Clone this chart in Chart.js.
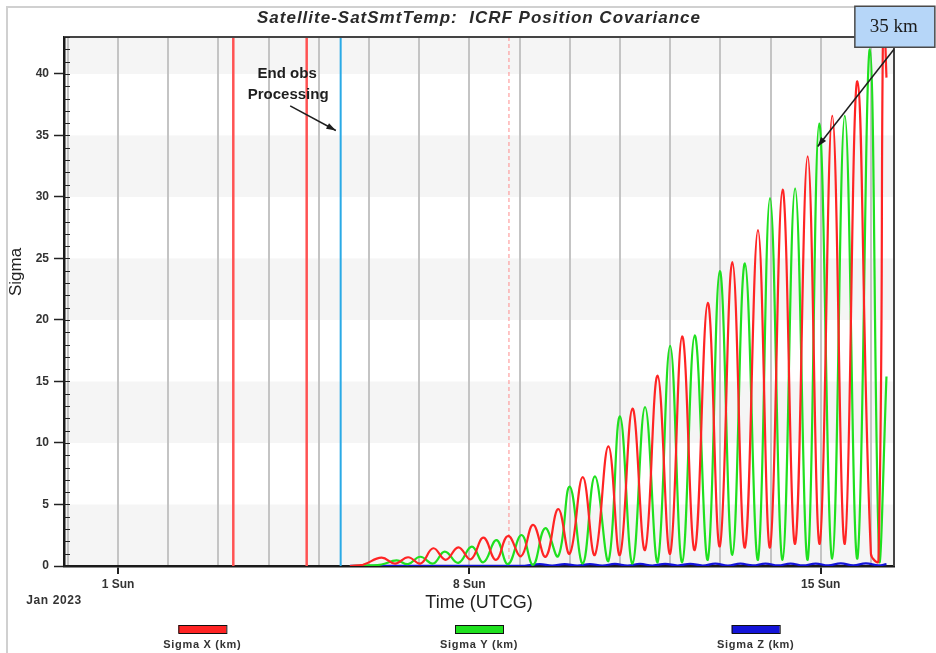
<!DOCTYPE html>
<html>
<head>
<meta charset="utf-8">
<title>Satellite-SatSmtTemp: ICRF Position Covariance</title>
<script src="https://cdn.jsdelivr.net/npm/chart.js@4.4.0/dist/chart.umd.min.js"></script>
<style>
  html, body { margin: 0; padding: 0; background: #fff; }
</style>
</head>
<body>
<canvas id="covChart" width="936" height="653"></canvas>
<script>
// tiempo en dias desde 1 Jan 2023 00:00 UTCG, sigma en km
const sigmaXDays = [4.62, 4.88, 5.25, 5.52, 5.78, 6.03, 6.28, 6.53, 6.78, 7.03, 7.28, 7.53, 7.77, 8.03,
  8.27, 8.52, 8.77, 9.00, 9.26, 9.50, 9.77, 10.00, 10.25, 10.50, 10.75, 11.00, 11.24, 11.49, 11.75, 11.99,
  12.24, 12.49, 12.75, 12.99, 13.24, 13.49, 13.74, 13.98, 14.23, 14.48, 14.73, 15.00, 15.15, 15.25, 15.31];
const sigmaXKm = [0.0, 0.1, 0.68, 0.2, 0.71, 0.2, 1.44, 0.5, 1.52, 0.55, 2.3, 0.5, 2.44, 0.8,
  3.34, 0.75, 4.62, 1.0, 7.22, 0.9, 9.72, 0.9, 12.79, 1.3, 15.47, 1.0, 18.67, 1.3, 21.4, 1.6,
  24.7, 1.5, 27.3, 1.5, 30.6, 1.8, 33.3, 1.8, 36.6, 1.8, 39.4, 1.0, 0.4, 46.0, 39.7];

const sigmaYDays = [4.62, 5.00, 5.25, 5.55, 5.78, 6.02, 6.28, 6.51, 6.78, 7.05, 7.28, 7.54, 7.77, 8.04,
  8.27, 8.51, 8.77, 9.00, 9.26, 9.50, 9.77, 10.00, 10.25, 10.50, 10.75, 11.00, 11.24, 11.49, 11.75, 11.99,
  12.24, 12.49, 12.75, 12.99, 13.24, 13.49, 13.74, 13.97, 14.23, 14.48, 14.73, 14.98, 15.17, 15.31];
const sigmaYKm = [0.0, 0.05, 0.12, 0.45, 0.15, 0.75, 0.2, 1.17, 0.25, 1.57, 0.3, 2.1, 0.15, 2.52,
  0.1, 3.07, 0.8, 6.46, 0.2, 7.28, 0.4, 12.16, 0.2, 12.92, 0.3, 17.9, 0.3, 18.75, 0.5, 23.97,
  0.9, 24.6, 0.5, 29.9, 0.5, 30.7, 0.5, 35.96, 0.6, 36.6, 0.6, 42.0, 0.3, 15.4];

const sigmaZDays = [4.62, 8.10, 8.40, 8.65, 8.90, 9.15, 9.40, 9.65, 9.90, 10.15, 10.40, 10.65, 10.90,
  11.15, 11.40, 11.65, 11.90, 12.15, 12.40, 12.65, 12.90, 13.15, 13.40, 13.65, 13.90, 14.15, 14.40,
  14.65, 14.90, 15.15, 15.31];
const sigmaZKm = [0.02, 0.02, 0.15, 0.03, 0.16, 0.03, 0.16, 0.04, 0.17, 0.04, 0.17, 0.04, 0.18,
  0.04, 0.18, 0.04, 0.19, 0.04, 0.19, 0.05, 0.2, 0.05, 0.2, 0.05, 0.2, 0.05, 0.21,
  0.05, 0.21, 0.05, 0.15];

// etiquetas del eje x (una por semana)
const xTickDays = [0, 7, 14];
const xTickLabels = ["1 Sun", "8 Sun", "15 Sun"];

// lineas verticales de eventos (dias)
const eventDays = [2.297, 3.759, 4.436, 7.789];

const yMin = 0, yMax = 43, yStep = 5;
const xMin = -1.076, xMax = 15.46;

// estilos de las lineas de eventos
const eventStyles = [
  { color: "#ff5252", width: 2.5, dash: [] },
  { color: "#ff5252", width: 2.5, dash: [] },
  { color: "#2aaae6", width: 2, dash: [] },
  { color: "#ff8c8c", width: 1, dash: [4, 3] },
];

function pairs(days, km) {
  return days.map((d, i) => ({ x: d, y: km[i] }));
}

function drawArrow(ctx, x1, y1, x2, y2) {
  const ang = Math.atan2(y2 - y1, x2 - x1);
  ctx.beginPath();
  ctx.moveTo(x1, y1);
  ctx.lineTo(x2, y2);
  ctx.stroke();
  ctx.beginPath();
  ctx.moveTo(x2, y2);
  ctx.lineTo(x2 - 10 * Math.cos(ang - 0.33), y2 - 10 * Math.sin(ang - 0.33));
  ctx.lineTo(x2 - 10 * Math.cos(ang + 0.33), y2 - 10 * Math.sin(ang + 0.33));
  ctx.closePath();
  ctx.fill();
}

const decorPlugin = {
  id: "decor",
  beforeDraw(chart) {
    const { ctx, chartArea: a, scales: { y } } = chart;
    ctx.save();
    ctx.fillStyle = "#ffffff";
    ctx.fillRect(0, 0, chart.width, chart.height);
    // bandas grises alternas
    ctx.fillStyle = "#f5f5f5";
    for (let v = yMin; v < yMax; v += 2 * yStep) {
      const top = y.getPixelForValue(Math.min(v + yStep, yMax));
      const bot = y.getPixelForValue(v);
      ctx.fillRect(a.left, top, a.right - a.left, bot - top);
    }
    ctx.restore();
  },
  beforeDatasetsDraw(chart) {
    const { ctx, chartArea: a, scales: { x } } = chart;
    ctx.save();
    eventDays.forEach((d, i) => {
      const st = eventStyles[i];
      const px = x.getPixelForValue(d);
      ctx.strokeStyle = st.color;
      ctx.lineWidth = st.width;
      ctx.setLineDash(st.dash);
      ctx.beginPath();
      ctx.moveTo(px, a.top);
      ctx.lineTo(px, a.bottom);
      ctx.stroke();
    });
    ctx.restore();
  },
  afterDraw(chart) {
    const { ctx, chartArea: a, scales: { x, y } } = chart;
    ctx.save();

    // borde superior y derecho del area
    ctx.strokeStyle = "#444";
    ctx.lineWidth = 2;
    ctx.beginPath();
    ctx.moveTo(a.left, a.top);
    ctx.lineTo(a.right, a.top);
    ctx.lineTo(a.right, a.bottom);
    ctx.stroke();

    // ticks menores del eje y (hacia dentro)
    ctx.strokeStyle = "#222";
    ctx.lineWidth = 1;
    for (let v = yMin; v <= yMax; v++) {
      const py = Math.round(y.getPixelForValue(v)) + 0.5;
      ctx.beginPath();
      ctx.moveTo(a.left, py);
      ctx.lineTo(a.left + 6, py);
      ctx.stroke();
    }

    // marco exterior
    ctx.strokeStyle = "#d0d0d0";
    ctx.lineWidth = 2;
    ctx.beginPath();
    ctx.moveTo(7, chart.height);
    ctx.lineTo(7, 7);
    ctx.lineTo(860, 7);
    ctx.stroke();

    // titulo
    ctx.fillStyle = "#2a2a2a";
    ctx.textAlign = "center";
    ctx.textBaseline = "middle";
    ctx.font = "italic bold 17px 'Liberation Sans', Arial, sans-serif";
    ctx.letterSpacing = "1px";
    ctx.fillText("Satellite-SatSmtTemp:  ICRF Position Covariance", (a.left + a.right) / 2, 18);
    ctx.letterSpacing = "0px";

    // titulo eje y
    ctx.save();
    ctx.translate(16, 272);
    ctx.rotate(-Math.PI / 2);
    ctx.font = "17px 'Liberation Sans', Arial, sans-serif";
    ctx.fillStyle = "#222";
    ctx.fillText("Sigma", 0, 0);
    ctx.restore();

    // fecha bajo el eje
    ctx.font = "bold 12px 'Liberation Sans', Arial, sans-serif";
    ctx.fillStyle = "#333";
    ctx.letterSpacing = "0.6px";
    ctx.fillText("Jan 2023", 54, 601);

    // leyenda
    const mid = (a.left + a.right) / 2;
    const gap = (a.right - a.left) / 3;
    chart.data.datasets.forEach((ds, i) => {
      const cx = mid + (i - 1) * gap;
      ctx.fillStyle = ds.borderColor;
      ctx.fillRect(cx - 24, a.bottom + 59, 48, 8);
      ctx.strokeStyle = "#111";
      ctx.lineWidth = 1;
      ctx.strokeRect(cx - 24 + 0.5, a.bottom + 59 + 0.5, 48, 8);
      ctx.fillStyle = "#333";
      ctx.font = "bold 11px 'Liberation Sans', Arial, sans-serif";
      ctx.letterSpacing = "0.7px";
      ctx.fillText(ds.label, cx, a.bottom + 79);
    });
    ctx.letterSpacing = "0px";

    // anotacion "End obs Processing"
    ctx.fillStyle = "#1e1e1e";
    ctx.font = "bold 15px 'Liberation Sans', Arial, sans-serif";
    ctx.fillText("End obs", x.getPixelForValue(3.37), y.getPixelForValue(40.0));
    ctx.fillText("Processing", x.getPixelForValue(3.39), y.getPixelForValue(38.3));
    ctx.strokeStyle = "#1e1e1e";
    ctx.lineWidth = 1.5;
    drawArrow(ctx, x.getPixelForValue(3.43), y.getPixelForValue(37.4),
      x.getPixelForValue(4.34), y.getPixelForValue(35.4));

    // caja "35 km"
    const bx = x.getPixelForValue(14.68), by = y.getPixelForValue(45.5);
    const bw = 80, bh = 41;
    ctx.fillStyle = "#b6d6f8";
    ctx.fillRect(bx, by, bw, bh);
    ctx.strokeStyle = "#4a4a4a";
    ctx.lineWidth = 1.5;
    ctx.strokeRect(bx, by, bw, bh);
    ctx.fillStyle = "#1a1a1a";
    ctx.font = "19px 'Liberation Serif', 'Times New Roman', serif";
    ctx.fillText("35 km", bx + bw / 2 - 1, by + bh / 2);
    ctx.strokeStyle = "#1e1e1e";
    ctx.lineWidth = 1.5;
    drawArrow(ctx, x.getPixelForValue(15.46), y.getPixelForValue(42.0),
      x.getPixelForValue(13.94), y.getPixelForValue(34.1));

    ctx.restore();
  },
};

const lineStyle = {
  borderWidth: 2.2,
  pointRadius: 0,
  tension: 0.42,
  fill: false,
};

const chart = new Chart(document.getElementById("covChart"), {
  type: "line",
  data: {
    datasets: [
      Object.assign({ label: "Sigma X (km)", data: pairs(sigmaXDays, sigmaXKm), borderColor: "#ff2424" }, lineStyle),
      Object.assign({ label: "Sigma Y (km)", data: pairs(sigmaYDays, sigmaYKm), borderColor: "#1fe01f" }, lineStyle),
      Object.assign({ label: "Sigma Z (km)", data: pairs(sigmaZDays, sigmaZKm), borderColor: "#1414d8" }, lineStyle),
    ],
  },
  options: {
    responsive: false,
    animation: false,
    devicePixelRatio: 1,
    layout: { padding: { left: 0, top: 37, right: 42, bottom: 0 } },
    plugins: {
      legend: { display: false },
      title: { display: false },
      tooltip: { enabled: false },
    },
    scales: {
      x: {
        type: "linear",
        min: xMin,
        max: xMax,
        afterFit: (s) => { s.height = 87; },
        border: { display: true, color: "#1a1a1a", width: 2.5 },
        grid: {
          color: "#c4c4c4",
          lineWidth: 2,
          drawTicks: true,
          tickLength: 8,
          tickWidth: 2,
          tickColor: (c) => (c.tick && xTickDays.includes(c.tick.value) ? "#222" : "rgba(0,0,0,0)"),
        },
        ticks: {
          stepSize: 1,
          includeBounds: false,
          autoSkip: false,
          maxRotation: 0,
          padding: 3,
          color: "#333",
          font: { family: "'Liberation Sans', Arial, sans-serif", size: 12, weight: "bold" },
          callback: (v) => {
            const i = xTickDays.indexOf(v);
            return i >= 0 ? xTickLabels[i] : "";
          },
        },
        title: {
          display: true,
          text: "Time (UTCG)",
          color: "#222",
          font: { family: "'Liberation Sans', Arial, sans-serif", size: 18 },
          padding: { top: 0, bottom: 39 },
        },
      },
      y: {
        min: yMin,
        max: yMax,
        afterFit: (s) => { s.width = 64; },
        border: { display: true, color: "#1a1a1a", width: 2.5 },
        grid: {
          drawOnChartArea: false,
          drawTicks: true,
          tickLength: 10,
          tickColor: "#222",
          tickWidth: 1.5,
        },
        ticks: {
          stepSize: yStep,
          includeBounds: false,
          padding: 5,
          color: "#333",
          font: { family: "'Liberation Sans', Arial, sans-serif", size: 12, weight: "bold" },
        },
      },
    },
  },
  plugins: [decorPlugin],
});
</script>
</body>
</html>
